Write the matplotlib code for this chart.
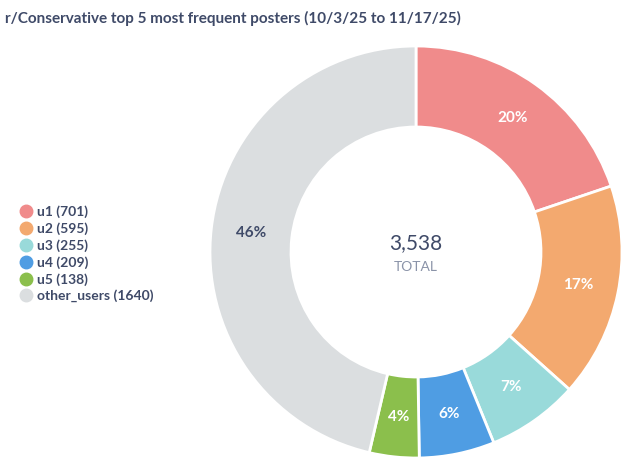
import matplotlib.pyplot as plt
from matplotlib.lines import Line2D
import numpy as np

plt.rcParams['font.family'] = ['Lato', 'DejaVu Sans']

users = ['u1', 'u2', 'u3', 'u4', 'u5', 'other_users']
posts = [701, 595, 255, 209, 138, 1640]
colors = ['#F08B8B', '#F3A96F', '#99DADA', '#4F9DE3', '#8BBF4C', '#DBDEE0']
title = 'r/Conservative top 5 most frequent posters (10/3/25 to 11/17/25)'

text_dark = '#3F4A68'
total = sum(posts)

fig = plt.figure(figsize=(6.4, 4.69), dpi=100)
W, H = 640, 469
cx, cy, r = 416, 469 - 252, 206
ax = fig.add_axes([(cx - r) / W, (cy - r) / H, 2 * r / W, 2 * r / H])

wedges, _ = ax.pie(posts, colors=colors, startangle=90, counterclock=False,
                   radius=1, wedgeprops=dict(width=1 - 125 / 206, edgecolor='white', linewidth=2))
ax.set_xlim(-1, 1)
ax.set_ylim(-1, 1)
ax.set_aspect('equal')
ax.axis('off')

# percentage labels in the middle of the ring
mid_r = (1 + 125 / 206) / 2
for w, v, name in zip(wedges, posts, users):
    ang = np.deg2rad((w.theta1 + w.theta2) / 2)
    col = text_dark if name == 'other_users' else 'white'
    ax.text(mid_r * np.cos(ang), mid_r * np.sin(ang), '%d%%' % round(100 * v / total),
            ha='center', va='center', fontsize=11, fontweight='bold', color=col)

ax.text(0, 0.045, '{:,}'.format(total), ha='center', va='center', fontsize=15, color=text_dark)
ax.text(0, -0.075, 'TOTAL', ha='center', va='center', fontsize=10, color='#8A93A8')

fig.text(5 / W, 1 - 18 / H, title, ha='left', va='center', fontsize=11, fontweight='bold', color=text_dark)

handles = [Line2D([], [], marker='o', linestyle='none', markersize=9, markerfacecolor=c,
                  markeredgecolor=c) for c in colors]
labels = ['%s (%d)' % (u, p) for u, p in zip(users, posts)]
leg = fig.legend(handles, labels, loc='center left', bbox_to_anchor=(13 / W, 1 - 254 / H),
                 frameon=False, handlelength=0.8, handletextpad=0.4, labelspacing=0.3,
                 borderpad=0, prop=dict(size=10, weight='bold'))
for t in leg.get_texts():
    t.set_color(text_dark)

fig.savefig('out.png', dpi=100)
